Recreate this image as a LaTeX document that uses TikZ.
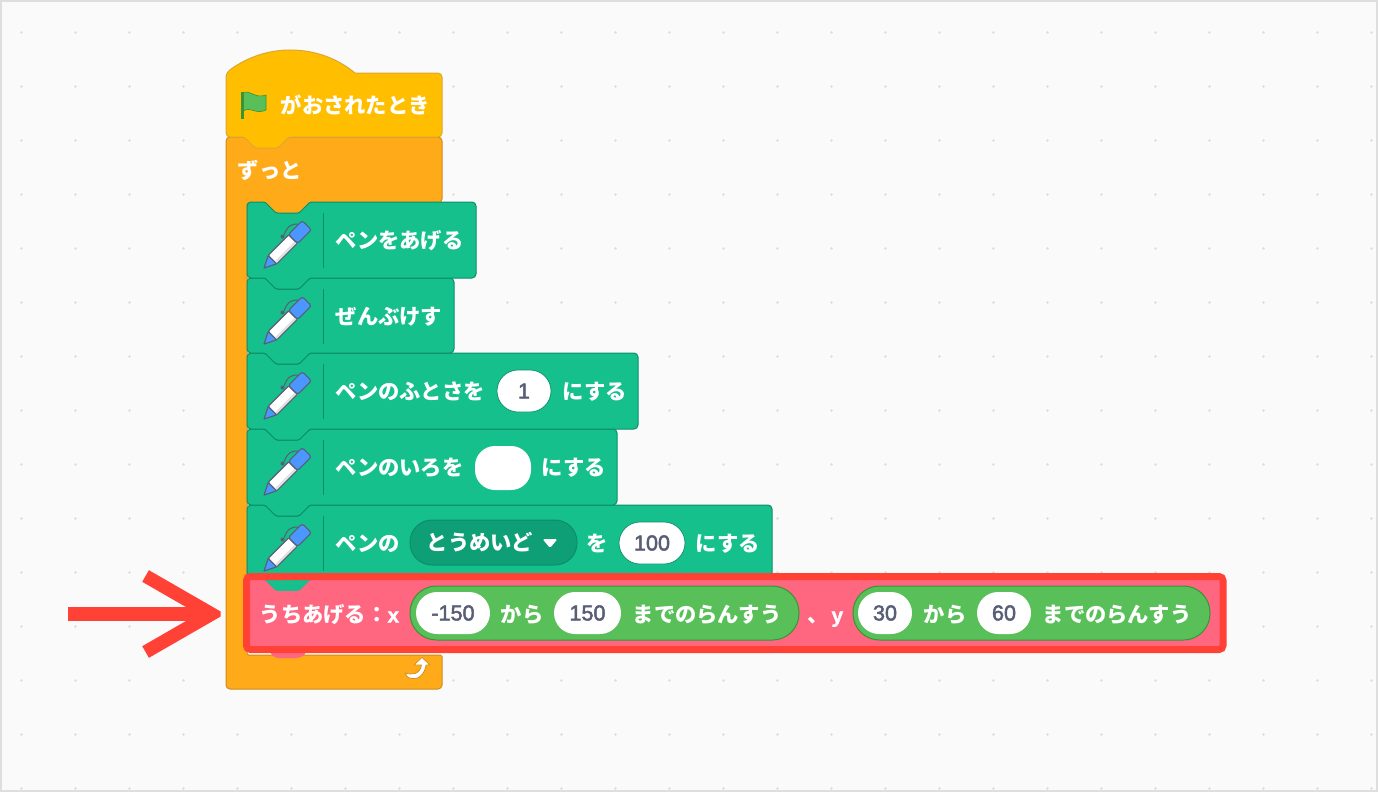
\documentclass[tikz,border=0pt]{standalone}
\usepackage{fontspec}
\usetikzlibrary{arrows.meta}
\newfontfamily\jp{Noto Sans CJK JP}
\newfontfamily\latb[RawFeature={embolden=1.2}]{Liberation Sans Bold}
\newfontfamily\latm[RawFeature={embolden=2.2}]{Liberation Sans}
\definecolor{bgc}{HTML}{FAFAFA}
\definecolor{edgec}{HTML}{DEDEDE}
\definecolor{dotc}{HTML}{DDDDDD}
\definecolor{hatc}{HTML}{FFBF00}
\definecolor{hate}{HTML}{DDA630}
\definecolor{ctrlc}{HTML}{FFAB19}
\definecolor{ctrle}{HTML}{CF8B17}
\definecolor{penc}{HTML}{15C08C}
\definecolor{pene}{HTML}{0B8E69}
\definecolor{ddc}{HTML}{0F9F76}
\definecolor{pinkc}{HTML}{FF6680}
\definecolor{opc}{HTML}{59C059}
\definecolor{ope}{HTML}{389438}
\definecolor{redc}{HTML}{FF4136}
\definecolor{inkc}{HTML}{575E75}
\definecolor{blueic}{HTML}{4C97FF}
\tikzset{
  hatblock/.style={draw=hate,fill=hatc,line width=1},
  ctrlblock/.style={draw=ctrle,fill=ctrlc,line width=1},
  penblock/.style={draw=pene,fill=penc,line width=1},
  pinkblock/.style={fill=pinkc},
  lbl/.style={anchor=west,inner sep=0,text=white,font=\jp\bfseries\fontsize{21.3}{24}\selectfont,text height=19,text depth=2},
  num/.style={draw=none,fill=white,inner sep=0,text=inkc,font=\latm\fontsize{21.6}{24}\selectfont},
  opshape/.style={draw=ope,fill=opc,line width=1,inner sep=0,rounded corners=26.5},
  ddshape/.style={draw=pene,fill=ddc,line width=1,inner sep=0,rounded corners=22},
  penline/.style={draw=inkc,line width=1.1,line join=round},
}
\newcommand{\blk}[5]{%
  \path[#1] [rounded corners=4] (#2,#3) [rounded corners=1.5] -- ({#2+18},#3) -- ({#2+29},{#3+11}) -- ({#2+52},{#3+11}) -- ({#2+63},#3) [rounded corners=4] -- (#4,#3)
    -- (#4,#5) [rounded corners=1.5] -- ({#2+63},#5) -- ({#2+52},{#5+11}) -- ({#2+29},{#5+11}) -- ({#2+18},#5) [rounded corners=4] -- (#2,#5) -- cycle;}
\newcommand{\penicon}[1]{%
  \begin{scope}[shift={(247,#1)}]
    \draw[draw=pene,line width=1] (76,11) -- (76,66);
    \draw[penline,line width=1] (53,23) .. controls (46,20) and (40,24) .. (37,33);
    \fill[inkc] (35.5,34.5) circle (2);
    \begin{scope}[shift={(17,66)},rotate=45]
      \path[penline,fill=blueic] (0,0) -- (12,-6) -- (12,6) -- cycle;
      \path[penline,fill=white,rounded corners=1] (12,-6) -- (41,-6) -- (41,6) -- (12,6) -- cycle;
      \fill[black!12] (13,3) rectangle (40.4,5.4);
      \path[penline,fill=blueic,rounded corners=2.5] (41,-6.5) -- (60.5,-6.5) -- (60.5,6.5) -- (41,6.5) -- cycle;
    \end{scope}
  \end{scope}}
\begin{document}
\begin{tikzpicture}[x=1pt,y=-1pt]
\useasboundingbox (0,0) rectangle (1378,792);
\fill[bgc] (0,0) rectangle (1378,792);
\foreach \i in {0,...,25}{\foreach \j in {0,...,14}{\fill[dotc] ({21.5+54*\i},{32.5+54*\j}) circle (1.4);}}
\draw[edgec,line width=2] (1,1) rectangle (1377,791);

% forever block
\path[ctrlblock] [rounded corners=4] (226,137) -- (442,137) -- (442,203) [rounded corners=1.5] -- (310,203) -- (299,214) -- (276,214) -- (265,203) -- (247,203)
  -- (247,655) -- (442,655) [rounded corners=4] -- (442,689) -- (226,689) -- cycle;
% hat block
\path[hatblock] (226,73) .. controls (244,59) and (266,50) .. (290,50) .. controls (316,50) and (338,59) .. (355,73)
  [rounded corners=4] -- (442,73) -- (442,137) [rounded corners=1.5] -- (289,137) -- (278,148) -- (255,148) -- (244,137) [rounded corners=4] -- (226,137) -- cycle;
% flag
\fill[ope] (240.5,92) rectangle (243.5,118.5);
\path[fill=opc,draw=ope,line width=.6] (243.5,92.5) .. controls (251,90) and (255,99) .. (266,95) -- (266,110) .. controls (256,115) and (250,106) .. (243.5,111) -- cycle;
\node[lbl] (flagtext) at (280.5,105) {がおされたとき};
\node[lbl] (forevertext) at (237.5,170) {ずっと};

% pen blocks
\blk{penblock}{247}{505}{772}{581}
\blk{penblock}{247}{429}{617}{505}
\blk{penblock}{247}{353}{638}{429}
\blk{penblock}{247}{278}{454}{353}
\blk{penblock}{247}{202}{476}{278}
\penicon{202}\penicon{278}\penicon{353}\penicon{429}\penicon{505}

\node[lbl] (t1) at (335.5,240) {ペンをあげる};
\node[lbl] (t2) at (335.5,316) {ぜんぶけす};
\node[lbl] (t3a) at (335.5,391) {ペンのふとさを};
\node[num,draw=pene,minimum width=54,minimum height=42,rounded corners=21,line width=.7] (i3) at (524,391) {1};
\node[lbl] (t3b) at (562.5,391) {にする};
\node[lbl] (t4a) at (335.5,467) {ペンのいろを};
\node[num,minimum width=56,minimum height=44,rounded corners=20] (i4) at (503,468) {};
\node[lbl] (t4b) at (541.5,467) {にする};
\node[lbl] (t5a) at (335.5,543) {ペンの};
\node[ddshape,minimum width=167,minimum height=45] (d5) at (493.5,542.5) {};
\node[lbl] (t5b) at (426.5,542) {とうめいど};
\fill[white,rounded corners=1.5] (542.5,539) -- (557.5,539) -- (550,548) -- cycle;
\node[lbl] (t5c) at (586.5,543) {を};
\node[num,draw=pene,minimum width=66,minimum height=42,rounded corners=21,line width=.7] (i5) at (652,543) {100};
\node[lbl] (t5d) at (695.5,543) {にする};

% custom pink block with tab
\blk{pinkblock}{247}{580}{1222}{647}
\fill[pinkc,rounded corners=2] (267,645) -- (273,657) -- (303,657) -- (310,645) -- cycle;

\node[lbl] (launch) at (259.5,614) {うちあげる：{\latb\fontsize{21}{24}\selectfont x}};
\node[opshape,minimum width=389,minimum height=54] (op1) at (604.5,613) {};
\node[num,minimum width=74,minimum height=42,rounded corners=21] (a1) at (453,613) {-150};
\node[lbl] (k1) at (500.5,614) {から};
\node[num,minimum width=67,minimum height=42,rounded corners=21] (b1) at (587.5,613) {150};
\node[lbl] (m1) at (632.5,614) {までのらんすう};
\node[lbl] (comma) at (807,614) {、\hspace{3pt}{\latb\fontsize{21}{24}\selectfont y}};
\node[opshape,minimum width=357,minimum height=54] (op2) at (1031.5,613) {};
\node[num,minimum width=54,minimum height=42,rounded corners=21] (a2) at (885,613) {30};
\node[lbl] (k2) at (923.5,614) {から};
\node[num,minimum width=54,minimum height=42,rounded corners=21] (b2) at (1004,613) {60};
\node[lbl] (m2) at (1042.5,614) {までのらんすう};

% loop arrow
\path[fill=white,draw=ctrle,line width=.7,line join=round] (405,673) .. controls (411,675) and (420,675) .. (421.5,665) -- (414,665) -- (422,657.5) -- (430,665) -- (426,665)
  .. controls (425,674) and (418,680) .. (412,678.5) .. controls (408,678) and (406,676) .. (405,673) -- cycle;

% red highlight
\node[draw=redc,line width=7,rounded corners=4,inner sep=0,minimum width=976.5,minimum height=73] (frame) at (734.75,613) {};

% red arrow
\coordinate (arrowtail) at (68,614);
\coordinate (arrowhead) at (225,614);
\begin{scope}
\clip (60,560) rectangle (220.5,670);
\draw[redc,line width=14,-{Straight Barb[length=66pt,width=76pt,line width=13.4pt,line cap=butt]}] (arrowtail) -- (arrowhead);
\end{scope}
\end{tikzpicture}
\end{document}
